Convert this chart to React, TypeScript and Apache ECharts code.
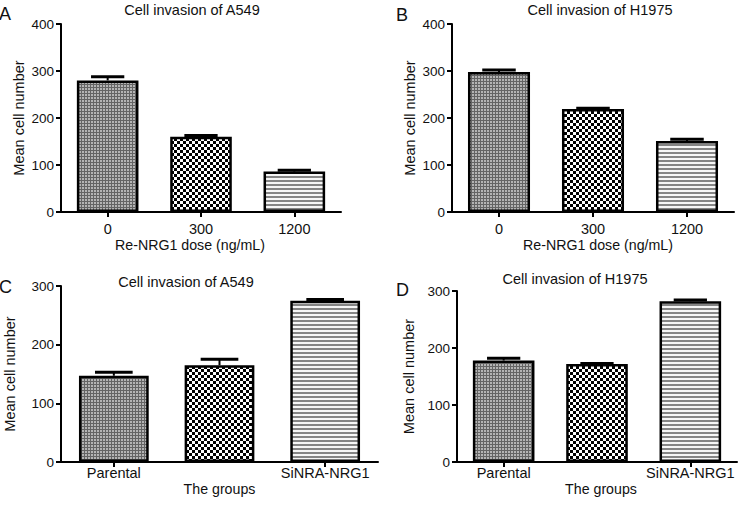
import React, { useEffect, useRef } from "react";
import * as echarts from "echarts";

const doseCategories = ["0", "300", "1200"];
const groupCategories = ["Parental", "NC", "SiNRA-NRG1"];

const a549DoseMean = [280, 160, 86];
const a549DoseErr = [8, 3, 3];
const h1975DoseMean = [298, 219, 151];
const h1975DoseErr = [4, 2, 4];

const a549GroupMean = [147, 165, 275];
const a549GroupErr = [6, 10, 2];
const h1975GroupMean = [178, 172, 282];
const h1975GroupErr = [4, 1, 2];

const doseYTicks = { min: 0, max: 400, interval: 100 };
const groupYTicks = { min: 0, max: 300, interval: 100 };

const FONT = "Liberation Sans, Arial, Helvetica, sans-serif";

function makeCanvas(w: number, h: number, draw: (ctx: CanvasRenderingContext2D) => void) {
  const c = document.createElement("canvas");
  c.width = w;
  c.height = h;
  const ctx = c.getContext("2d")!;
  draw(ctx);
  return c;
}

function buildPatterns() {
  const fine = makeCanvas(3, 3, (ctx) => {
    ctx.fillStyle = "#646464";
    ctx.fillRect(0, 0, 3, 3);
    ctx.fillStyle = "#b4b4b4";
    ctx.fillRect(1, 1, 2, 2);
  });
  const checker = makeCanvas(6, 6, (ctx) => {
    ctx.fillStyle = "#ffffff";
    ctx.fillRect(0, 0, 6, 6);
    ctx.fillStyle = "#000000";
    ctx.fillRect(0, 0, 3, 3);
    ctx.fillRect(3, 3, 3, 3);
  });
  const stripes = makeCanvas(4, 4, (ctx) => {
    ctx.fillStyle = "#f6f6f6";
    ctx.fillRect(0, 0, 4, 4);
    ctx.fillStyle = "#858585";
    ctx.fillRect(0, 0, 4, 2);
  });
  return [
    { image: fine, repeat: "repeat" },
    { image: checker, repeat: "repeat" },
    { image: stripes, repeat: "repeat" },
  ];
}

type Panel = {
  cats: string[];
  mean: number[];
  err: number[];
  ticks: { min: number; max: number; interval: number };
  grid: { left: number; top: number; width: number; height: number };
  xName: string;
  xNameGap: number;
  xNamePad: number[];
  xLabelMargin: number;
  yNameGap: number;
};

export default function App() {
  const ref = useRef<HTMLDivElement>(null);

  useEffect(() => {
    if (!ref.current) return;
    const chart = echarts.init(ref.current, undefined, { renderer: "svg" });
    const patterns = buildPatterns();

    const panels: Panel[] = [
      {
        cats: doseCategories, mean: a549DoseMean, err: a549DoseErr, ticks: doseYTicks,
        grid: { left: 61, top: 24, width: 280, height: 188 },
        xName: "Re-NRG1 dose (ng/mL)", xNameGap: 26, xNamePad: [0, 22, 0, 0], xLabelMargin: 9, yNameGap: 35,
      },
      {
        cats: doseCategories, mean: h1975DoseMean, err: h1975DoseErr, ticks: doseYTicks,
        grid: { left: 452, top: 24, width: 282, height: 188 },
        xName: "Re-NRG1 dose (ng/mL)", xNameGap: 26, xNamePad: [0, 0, 0, 10], xLabelMargin: 9, yNameGap: 35,
      },
      {
        cats: groupCategories, mean: a549GroupMean, err: a549GroupErr, ticks: groupYTicks,
        grid: { left: 61, top: 286, width: 317, height: 176 },
        xName: "The groups", xNameGap: 20, xNamePad: [0, 0, 0, 0], xLabelMargin: 3, yNameGap: 44,
      },
      {
        cats: groupCategories, mean: h1975GroupMean, err: h1975GroupErr, ticks: groupYTicks,
        grid: { left: 457, top: 291, width: 280, height: 171 },
        xName: "The groups", xNameGap: 20, xNamePad: [0, 0, 0, 8], xLabelMargin: 3, yNameGap: 41,
      },
    ];

    const yLabelStyle = { color: "#111", fontSize: 13.5, fontFamily: FONT };
    const xLabelStyle = { color: "#111", fontSize: 14.5, fontFamily: FONT };
    const nameStyle = { color: "#111", fontSize: 14.2, fontFamily: FONT };

    const grids = panels.map((p) => ({ ...p.grid, containLabel: false }));
    const xAxes = panels.map((p, i) => ({
      type: "category",
      gridIndex: i,
      data: p.cats,
      name: p.xName,
      nameLocation: "middle",
      nameGap: p.xNameGap,
      nameTextStyle: { ...nameStyle, padding: p.xNamePad },
      axisLine: { show: true, lineStyle: { color: "#000", width: 2 } },
      axisTick: { show: true, alignWithLabel: true, length: 5, lineStyle: { color: "#000", width: 2 } },
      axisLabel: { ...xLabelStyle, margin: p.xLabelMargin },
      splitLine: { show: false },
    }));
    const yAxes = panels.map((p, i) => ({
      type: "value",
      gridIndex: i,
      min: p.ticks.min,
      max: p.ticks.max,
      interval: p.ticks.interval,
      name: "Mean cell number",
      nameLocation: "middle",
      nameRotate: 90,
      nameGap: p.yNameGap,
      nameTextStyle: { ...nameStyle, fontSize: 14.5 },
      axisLine: { show: true, lineStyle: { color: "#000", width: 2 } },
      axisTick: { show: true, length: 5, lineStyle: { color: "#000", width: 2 } },
      axisLabel: { ...yLabelStyle, margin: 7 },
      splitLine: { show: false },
    }));

    const series: any[] = [];
    panels.forEach((p, i) => {
      series.push({
        type: "bar",
        xAxisIndex: i,
        yAxisIndex: i,
        barWidth: "66%",
        data: p.mean.map((v, j) => ({
          value: v,
          itemStyle: { color: patterns[j], borderColor: "#000", borderWidth: 2.5 },
        })),
        z: 2,
      });
      series.push({
        type: "custom",
        xAxisIndex: i,
        yAxisIndex: i,
        encode: { x: 0, y: 1 },
        z: 3,
        data: p.mean.map((v, j) => [j, v, p.err[j]]),
        renderItem: (params: any, api: any) => {
          const x = api.value(0);
          const m = api.value(1);
          const e = api.value(2);
          const p0 = api.coord([x, m]);
          const p1 = api.coord([x, m + e]);
          const bw = api.size([1, 0])[0] * 0.66;
          const half = bw * 0.27;
          return {
            type: "group",
            children: [
              { type: "line", shape: { x1: p0[0], y1: p0[1], x2: p1[0], y2: p1[1] }, style: { stroke: "#000", lineWidth: 2 } },
              { type: "line", shape: { x1: p1[0] - half, y1: p1[1], x2: p1[0] + half, y2: p1[1] }, style: { stroke: "#000", lineWidth: 3 } },
            ],
          };
        },
      });
    });

    const titleText = (text: string, x: number, y: number) => ({
      type: "text",
      x,
      y,
      style: { text, align: "center", verticalAlign: "middle", fontSize: 14.5, fontFamily: FONT, fill: "#111" },
    });
    const letter = (text: string, x: number, y: number) => ({
      type: "text",
      x,
      y,
      style: { text, align: "left", verticalAlign: "middle", fontSize: 18, fontFamily: FONT, fill: "#111" },
    });

    chart.setOption({
      animation: false,
      backgroundColor: "#fff",
      grid: grids,
      xAxis: xAxes,
      yAxis: yAxes,
      series,
      graphic: [
        titleText("Cell invasion of A549", 192, 10),
        titleText("Cell invasion of H1975", 600, 10),
        titleText("Cell invasion of A549", 186, 282),
        titleText("Cell invasion of H1975", 575, 279),
        letter("A", -1, 14),
        letter("B", 396, 15),
        letter("C", -1, 287),
        letter("D", 396, 290),
      ],
    });

    return () => chart.dispose();
  }, []);

  return <div ref={ref} style={{ position: "fixed", left: 0, top: 0, width: 740, height: 508 }} />;
}
